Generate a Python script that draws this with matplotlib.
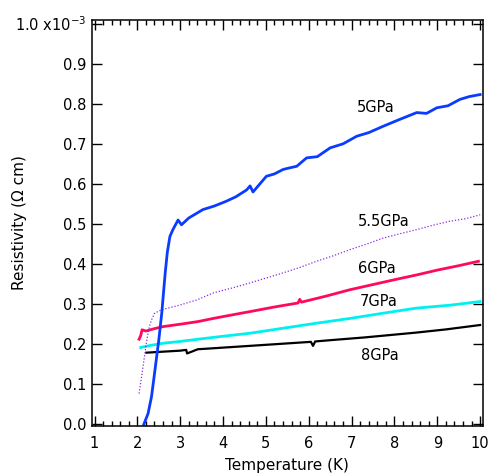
import matplotlib.pyplot as plt
from matplotlib.ticker import MultipleLocator

# resistivity in units of 1e-3 ohm cm
t_5gpa = [2.15, 2.25, 2.33, 2.38, 2.44, 2.50, 2.57, 2.65, 2.70, 2.76, 2.83, 2.95, 3.03,
          3.20, 3.53, 3.80, 4.08, 4.30, 4.55, 4.63, 4.70, 5.01, 5.20, 5.40, 5.55, 5.72,
          5.95, 6.20, 6.50, 6.80, 7.12, 7.40, 7.74, 8.10, 8.52, 8.75, 8.99, 9.25, 9.53,
          9.75, 10.0]
r_5gpa = [0.0, 0.027, 0.069, 0.11, 0.16, 0.21, 0.278, 0.378, 0.43, 0.469, 0.486, 0.51, 0.498,
          0.515, 0.536, 0.545, 0.557, 0.568, 0.585, 0.595, 0.58, 0.619, 0.625, 0.636, 0.64,
          0.644, 0.665, 0.668, 0.69, 0.70, 0.719, 0.728, 0.744, 0.76, 0.778, 0.776, 0.79,
          0.795, 0.811, 0.818, 0.823]

t_55gpa = [2.04, 2.10, 2.16, 2.22, 2.28, 2.34, 2.40, 2.50, 2.60, 3.00, 3.40, 3.77, 4.20,
           4.63, 5.00, 5.40, 5.80, 6.18, 6.55, 6.96, 7.35, 7.74, 8.10, 8.52, 8.90, 9.30,
           9.65, 10.0]
r_55gpa = [0.077, 0.12, 0.165, 0.21, 0.244, 0.263, 0.277, 0.283, 0.287, 0.298, 0.311, 0.328,
           0.34, 0.353, 0.365, 0.378, 0.392, 0.407, 0.42, 0.436, 0.45, 0.465, 0.475, 0.486,
           0.497, 0.507, 0.513, 0.523]

t_6gpa = [2.04, 2.08, 2.11, 2.20, 2.40, 2.60, 3.00, 3.41, 3.80, 4.20, 4.63, 5.20, 5.75,
          5.79, 5.83, 6.40, 6.96, 7.50, 8.00, 8.52, 9.00, 9.50, 9.96]
r_6gpa = [0.2125, 0.222, 0.236, 0.233, 0.239, 0.244, 0.25, 0.2565, 0.265, 0.273, 0.2815,
          0.293, 0.303, 0.312, 0.305, 0.32, 0.336, 0.349, 0.361, 0.373, 0.385, 0.396, 0.407]

t_7gpa = [2.08, 2.30, 2.60, 3.00, 3.41, 4.00, 4.63, 5.40, 6.18, 7.00, 7.74, 8.50, 9.30, 10.0]
r_7gpa = [0.192, 0.197, 0.2025, 0.207, 0.2125, 0.22, 0.2275, 0.24, 0.2525, 0.265, 0.2775,
          0.29, 0.2975, 0.3065]

t_8gpa = [2.21, 2.60, 3.00, 3.14, 3.16, 3.41, 3.77, 4.20, 4.63, 5.20, 6.05, 6.10, 6.15,
          6.60, 7.30, 7.90, 8.50, 9.20, 10.0]
r_8gpa = [0.179, 0.1815, 0.184, 0.186, 0.177, 0.1875, 0.19, 0.193, 0.196, 0.2, 0.206, 0.196,
          0.207, 0.211, 0.217, 0.223, 0.229, 0.237, 0.248]

labels = ["5GPa", "5.5GPa", "6GPa", "7GPa", "8GPa"]
label_pos = [(7.57, 0.79), (7.74, 0.507), (7.59, 0.39), (7.63, 0.307), (7.67, 0.173)]

plt.rcParams['font.family'] = ['DejaVu Sans']

fig = plt.figure(figsize=(4.91, 4.76), dpi=100)
ax = fig.add_axes([0.1868, 0.105, 0.7963, 0.853])

ax.plot(t_8gpa, r_8gpa, color="black", lw=1.6)
ax.plot(t_7gpa, r_7gpa, color="#00f0f0", lw=2.0)
ax.plot(t_6gpa, r_6gpa, color="#ff0a5a", lw=2.0)
ax.plot(t_55gpa, r_55gpa, color="#8a2be2", lw=0.9, linestyle=(0, (1, 1.5)))
ax.plot(t_5gpa, r_5gpa, color="#0a3cff", lw=2.0)

for lab, (x, y) in zip(labels, label_pos):
    ax.text(x, y, lab, fontsize=10.5, ha="center", va="center")

ax.set_xlim(0.935, 10.06)
ax.set_ylim(-0.004, 1.009)

ax.xaxis.set_major_locator(MultipleLocator(1))
ax.xaxis.set_minor_locator(MultipleLocator(0.2))

yticks = [i / 10 for i in range(11)]
ylabels = ["%.1f" % v for v in yticks[:-1]] + [r"1.0 x10$^{-3}$"]
ax.set_yticks(yticks)
ax.set_yticklabels(ylabels)

ax.tick_params(axis="x", which="major", direction="in", length=7, width=1,
               top=True, bottom=True, labelsize=10.5, pad=7)
ax.tick_params(axis="x", which="minor", direction="in", length=3.5, width=1,
               top=True, bottom=True)
ax.tick_params(axis="y", which="major", direction="in", length=7.5, width=1,
               left=True, right=True, labelsize=10.5, pad=4)

for s in ax.spines.values():
    s.set_linewidth(1.1)

ax.set_xlabel("Temperature (K)", fontsize=11, labelpad=5)
ax.set_ylabel("Resistivity (\u03a9 cm)", fontsize=11)
ax.yaxis.set_label_coords(-0.166, 0.5)

fig.savefig("out.png", dpi=100)
